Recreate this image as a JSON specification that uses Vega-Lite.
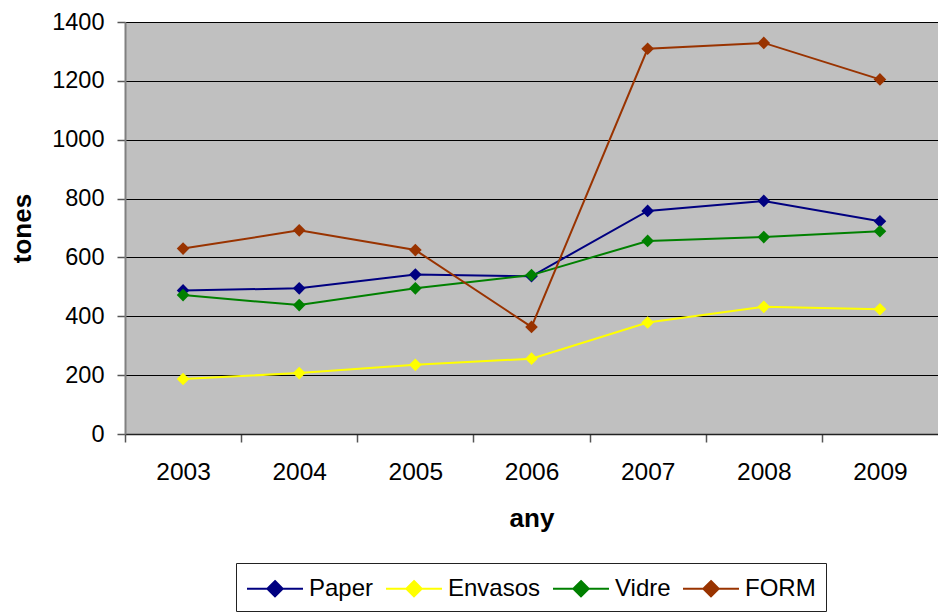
{
  "$schema": "https://vega.github.io/schema/vega-lite/v6.json",
  "width": 813,
  "height": 412,
  "autosize": "none",
  "padding": {"left": 125, "top": 22, "right": 0, "bottom": 180},
  "background": "white",
  "config": {
    "view": {"fill": "#C0C0C0", "stroke": null},
    "font": "Liberation Sans",
    "axis": {"labelFont": "Liberation Sans", "titleFont": "Liberation Sans", "labelColor": "black", "titleColor": "black"},
    "legend": {"labelFont": "Liberation Sans"}
  },
  "data": {
    "values": [
      {"any": "2003", "serie": "Paper", "tones": 488},
      {"any": "2004", "serie": "Paper", "tones": 495},
      {"any": "2005", "serie": "Paper", "tones": 542},
      {"any": "2006", "serie": "Paper", "tones": 536},
      {"any": "2007", "serie": "Paper", "tones": 758},
      {"any": "2008", "serie": "Paper", "tones": 792},
      {"any": "2009", "serie": "Paper", "tones": 723},
      {"any": "2003", "serie": "Envasos", "tones": 187},
      {"any": "2004", "serie": "Envasos", "tones": 207},
      {"any": "2005", "serie": "Envasos", "tones": 235},
      {"any": "2006", "serie": "Envasos", "tones": 256},
      {"any": "2007", "serie": "Envasos", "tones": 379},
      {"any": "2008", "serie": "Envasos", "tones": 432},
      {"any": "2009", "serie": "Envasos", "tones": 424},
      {"any": "2003", "serie": "Vidre", "tones": 472},
      {"any": "2004", "serie": "Vidre", "tones": 438},
      {"any": "2005", "serie": "Vidre", "tones": 495},
      {"any": "2006", "serie": "Vidre", "tones": 540},
      {"any": "2007", "serie": "Vidre", "tones": 656},
      {"any": "2008", "serie": "Vidre", "tones": 669},
      {"any": "2009", "serie": "Vidre", "tones": 689},
      {"any": "2003", "serie": "FORM", "tones": 630},
      {"any": "2004", "serie": "FORM", "tones": 692},
      {"any": "2005", "serie": "FORM", "tones": 625},
      {"any": "2006", "serie": "FORM", "tones": 364},
      {"any": "2007", "serie": "FORM", "tones": 1309},
      {"any": "2008", "serie": "FORM", "tones": 1329},
      {"any": "2009", "serie": "FORM", "tones": 1205}
    ]
  },
  "mark": {"type": "line", "strokeWidth": 2, "point": {"filled": true, "shape": "diamond", "size": 160, "opacity": 1}},
  "encoding": {
    "x": {
      "field": "any", "type": "ordinal", "sort": null,
      "scale": {"type": "point", "padding": 0.5},
      "axis": {
        "title": "any", "titleFontSize": 26, "titleFontWeight": "bold",
        "labelFontSize": 24.5, "labelAngle": 0,
        "tickOffset": -58.07, "labelOffset": 58.07,
        "tickSize": 8, "tickColor": "#555", "tickWidth": 1.5,
        "domainColor": "#222", "domainWidth": 1.5,
        "grid": false, "labelPadding": 18, "titlePadding": 22
      }
    },
    "y": {
      "field": "tones", "type": "quantitative",
      "scale": {"domain": [0, 1400], "nice": false},
      "axis": {
        "title": "tones", "titleFontSize": 26, "titleFontWeight": "bold",
        "labelFontSize": 23.5, "format": "d",
        "values": [0, 200, 400, 600, 800, 1000, 1200, 1400],
        "tickSize": 8, "tickColor": "#555", "tickWidth": 1.5,
        "domainColor": "#808080", "domainWidth": 2,
        "grid": true, "gridColor": "black", "gridWidth": 1, "gridOpacity": 1,
        "labelPadding": 13, "titlePadding": 16
      }
    },
    "color": {
      "field": "serie", "type": "nominal",
      "scale": {"domain": ["Paper", "Envasos", "Vidre", "FORM"], "range": ["#000080", "#FFFF00", "#008000", "#993300"]},
      "legend": {
        "title": null, "orient": "none", "direction": "horizontal",
        "legendX": 111, "legendY": 541,
        "labelFontSize": 24, "labelColor": "black",
        "strokeColor": "#222", "fillColor": "white", "padding": 10,
        "columnPadding": 8,
        "symbolType": "M-1,0L2.862,0M0.931,-0.53L1.461,0L0.931,0.53L0.401,0Z",
        "symbolSize": 841, "symbolStrokeWidth": 2, "symbolOpacity": 1,
        "labelOffset": 32,
        "encode": {"symbols": {"update": {"fill": {"scale": "color", "field": "value"}, "stroke": {"scale": "color", "field": "value"}}}}
      }
    }
  }
}
